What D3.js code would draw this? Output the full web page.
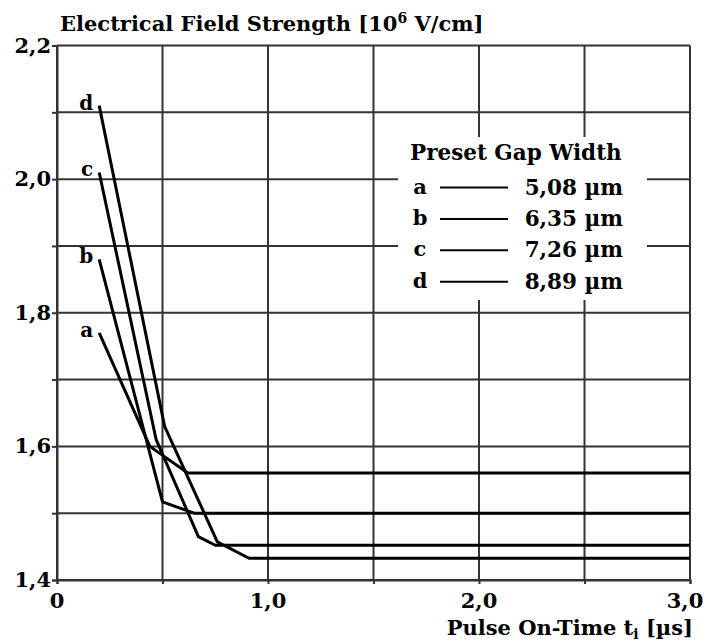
<!DOCTYPE html>
<html>
<head>
<meta charset="utf-8">
<script src="https://cdn.jsdelivr.net/npm/d3@7/dist/d3.min.js"></script>
<style>
  html, body { margin: 0; padding: 0; background: #fff; }
  svg { display: block; }
  text { font-family: "DejaVu Serif", serif; font-weight: bold; fill: #000; }
</style>
</head>
<body>
<svg id="chart" width="707" height="643"></svg>
<script>
// ---- data ----
const seriesNames = ["a", "b", "c", "d"];
const gapWidths = ["5,08", "6,35", "7,26", "8,89"];
const tA = [0.2, 0.44, 0.62, 3.0];
const eA = [1.77, 1.60, 1.56, 1.56];
const tB = [0.2, 0.50, 0.65, 3.0];
const eB = [1.88, 1.517, 1.50, 1.50];
const tC = [0.2, 0.47, 0.67, 0.75, 3.0];
const eC = [2.01, 1.61, 1.465, 1.452, 1.452];
const tD = [0.2, 0.51, 0.76, 0.91, 3.0];
const eD = [2.11, 1.63, 1.457, 1.4325, 1.4325];
const xGrid = [0, 0.5, 1.0, 1.5, 2.0, 2.5, 3.0];
const yGrid = [1.4, 1.5, 1.6, 1.7, 1.8, 1.9, 2.0, 2.1, 2.2];
const xTickValues = [0, 1, 2, 3];
const xTickLabels = ["0", "1,0", "2,0", "3,0"];
const yTickValues = [1.4, 1.6, 1.8, 2.0, 2.2];
const yTickLabels = ["1,4", "1,6", "1,8", "2,0", "2,2"];

const series = [
  { name: seriesNames[0], t: tA, e: eA },
  { name: seriesNames[1], t: tB, e: eB },
  { name: seriesNames[2], t: tC, e: eC },
  { name: seriesNames[3], t: tD, e: eD }
];

// ---- layout ----
const svg = d3.select("#chart");
const x = d3.scaleLinear().domain([0, 3]).range([57, 690]);
const y = d3.scaleLinear().domain([1.4, 2.2]).range([580, 45.5]);
const gridColor = "#333";

// grid
const grid = svg.append("g");
grid.selectAll("line.v").data(xGrid).enter().append("line")
  .attr("x1", d => x(d)).attr("x2", d => x(d))
  .attr("y1", y(2.2)).attr("y2", y(1.4))
  .attr("stroke", gridColor).attr("stroke-width", 2);
grid.selectAll("line.h").data(yGrid).enter().append("line")
  .attr("x1", x(0)).attr("x2", x(3))
  .attr("y1", d => y(d)).attr("y2", d => y(d))
  .attr("stroke", gridColor).attr("stroke-width", 2);

// axes ticks (outward)
const yAxis = d3.axisLeft(y).tickValues(yGrid).tickSize(5).tickFormat("");
const gy = svg.append("g").attr("transform", `translate(${x(0)},0)`).call(yAxis);
gy.select(".domain").attr("stroke", gridColor).attr("stroke-width", 2);
gy.selectAll(".tick line").attr("stroke", gridColor).attr("stroke-width", 2);

const xAxis = d3.axisBottom(x).tickValues(xGrid).tickSize(4).tickFormat("");
const gx = svg.append("g").attr("transform", `translate(0,${y(1.4)})`).call(xAxis);
gx.select(".domain").attr("stroke", gridColor).attr("stroke-width", 2);
gx.selectAll(".tick line").attr("stroke", gridColor).attr("stroke-width", 2);

// tick labels
svg.append("g").selectAll("text").data(yTickValues).enter().append("text")
  .attr("x", 51).attr("y", d => y(d) + 7)
  .attr("text-anchor", "end").attr("font-size", 21)
  .text((d, i) => yTickLabels[i]);
svg.append("g").selectAll("text").data(xTickValues).enter().append("text")
  .attr("x", d => x(d) - (d === 3 ? 5 : 0)).attr("y", 608)
  .attr("text-anchor", "middle").attr("font-size", 21)
  .text((d, i) => xTickLabels[i]);

// legend box (white background covering grid)
svg.append("rect").attr("x", 398).attr("y", 137).attr("width", 249).attr("height", 163)
  .attr("fill", "#fff");

// curves
const line = d3.line().x(p => x(p[0])).y(p => y(p[1]));
const curves = svg.append("g");
series.forEach(s => {
  const pts = s.t.map((t, i) => [t, s.e[i]]);
  curves.append("path").attr("d", line(pts))
    .attr("fill", "none").attr("stroke", "#000").attr("stroke-width", 3)
    .attr("stroke-linejoin", "round");
  curves.append("text")
    .attr("x", x(s.t[0]) - 6).attr("y", y(s.e[0]) + 4)
    .attr("text-anchor", "end").attr("font-size", 20)
    .text(s.name);
});

// title
const title = svg.append("text").attr("x", 60).attr("y", 31).attr("font-size", 21);
title.append("tspan").text("Electrical Field Strength [10");
title.append("tspan").attr("dy", -8).attr("font-size", 14).text("6");
title.append("tspan").attr("dy", 8).text(" V/cm]");

// x-axis title
const xt = svg.append("text").attr("x", 693).attr("y", 635).attr("text-anchor", "end").attr("font-size", 21);
xt.append("tspan").text("Pulse On-Time t");
xt.append("tspan").attr("dy", 4).attr("font-size", 14).text("i");
xt.append("tspan").attr("dy", -4).text(" [\u00b5s]");

// legend
const lg = svg.append("g");
lg.append("text").attr("x", 410).attr("y", 160).attr("font-size", 21.5).text("Preset Gap Width");
const rowY = d3.scaleLinear().domain([0, 3]).range([187.5, 281.7]);
series.forEach((s, i) => {
  const yy = rowY(i);
  lg.append("text").attr("x", 420).attr("y", yy + 6).attr("text-anchor", "middle")
    .attr("font-size", 21).text(s.name);
  lg.append("line").attr("x1", 440).attr("x2", 508).attr("y1", yy).attr("y2", yy)
    .attr("stroke", "#000").attr("stroke-width", 2);
  lg.append("text").attr("x", 623).attr("y", yy + 7).attr("text-anchor", "end")
    .attr("font-size", 21.5).text(gapWidths[i] + " \u00b5m");
});
</script>
</body>
</html>
